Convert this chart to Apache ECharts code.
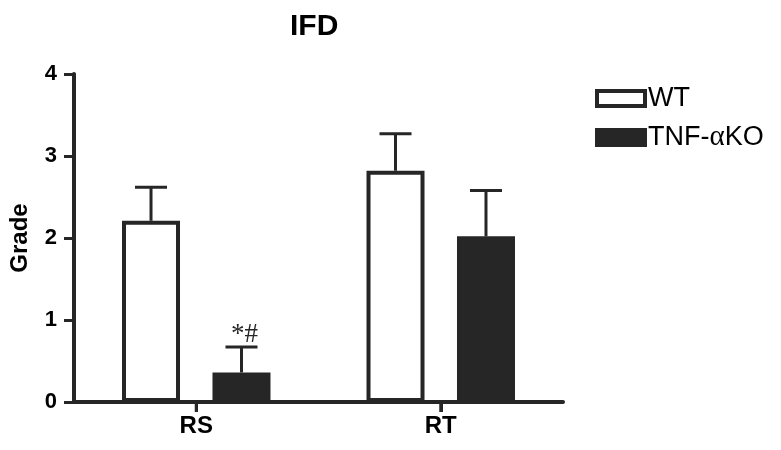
<!DOCTYPE html>
<html>
<head>
<meta charset="utf-8">
<script src="https://cdn.jsdelivr.net/npm/echarts@6/dist/echarts.min.js"></script>
<style>html,body{margin:0;padding:0;background:#fff}#c{width:781px;height:450px}</style>
</head>
<body>
<div id="c"></div>
<script>
const categories = ['RS', 'RT'];
const seriesNames = ['WT', 'TNF-αKO'];
const wtValues = [2.21, 2.82];
const wtErrors = [0.41, 0.45];
const koValues = [0.36, 2.02];
const koErrors = [0.31, 0.56];
const koAnnotations = ['*#', ''];
const yTicks = [0, 1, 2, 3, 4];

const INK = '#262626';
const BAR_W = 58;
const BAR_GAP = 0.56;
const FONT = '"Liberation Sans", Arial, sans-serif';
const SERIF = '"Liberation Serif", "DejaVu Serif", serif';

function errSeries(values, errors, groupIndex, notes) {
  const shift = (groupIndex === 0 ? -1 : 1) * BAR_W * (1 + BAR_GAP) / 2;
  return {
    type: 'custom',
    silent: true,
    z: 5,
    data: values.map((v, i) => [i, v, v + errors[i]]),
    renderItem: function (params, api) {
      const p0 = api.coord([api.value(0), api.value(1)]);
      const p1 = api.coord([api.value(0), api.value(2)]);
      const x = p0[0] + shift;
      const cap = 16;
      const children = [
        { type: 'line', shape: { x1: x, y1: p0[1], x2: x, y2: p1[1] }, style: { stroke: INK, lineWidth: 3 } },
        { type: 'line', shape: { x1: x - cap, y1: p1[1], x2: x + cap, y2: p1[1] }, style: { stroke: INK, lineWidth: 3 } }
      ];
      const note = notes ? notes[params.dataIndex] : '';
      if (note) {
        children.push({ type: 'text', x: x + 3, y: p1[1] + 1,
          style: { text: note, fill: INK, font: '27px ' + SERIF, align: 'center', verticalAlign: 'bottom' } });
      }
      return { type: 'group', children: children };
    }
  };
}

// category tick marks below the x axis (at each category centre)
const tickSeries = {
  type: 'custom',
  silent: true,
  z: 6,
  clip: false,
  data: categories.map((c, i) => [i, 0]),
  renderItem: function (params, api) {
    const p = api.coord([api.value(0), api.value(1)]);
    return { type: 'line', shape: { x1: p[0], y1: p[1], x2: p[0], y2: p[1] + 10 },
      style: { stroke: INK, lineWidth: 3 } };
  }
};

const chart = echarts.init(document.getElementById('c'), null, { renderer: 'canvas' });
chart.setOption({
  animation: false,
  backgroundColor: '#fff',
  title: {
    text: 'IFD', left: 285, top: 7,
    textStyle: { fontFamily: FONT, fontWeight: 'bold', fontSize: 30, color: '#000' }
  },
  legend: {
    data: seriesNames,
    orient: 'vertical',
    left: 595, top: 85,
    padding: 0,
    icon: 'rect',
    itemWidth: 48, itemHeight: 15, itemGap: 11,
    itemStyle: { borderWidth: 4, borderColor: INK },
    textStyle: { fontFamily: FONT, fontSize: 27, color: '#000', padding: [0, 0, 0, -2],
      rich: { a: { fontFamily: SERIF, fontSize: 29, color: '#000' } } },
    formatter: function (n) { return n.replace('α', '{a|α}'); }
  },
  grid: { left: 70, right: 218, top: 74, bottom: 48, containLabel: false },
  xAxis: {
    type: 'category',
    data: categories,
    axisLine: { lineStyle: { color: INK, width: 4 } },
    axisTick: { show: true, alignWithLabel: true, length: 10, lineStyle: { color: INK, width: 3 } },
    axisLabel: { margin: 12, fontFamily: FONT, fontWeight: 'bold', fontSize: 24, color: '#000' },
    splitLine: { show: false }
  },
  yAxis: {
    type: 'value',
    min: 0, max: 4, interval: 1,
    name: 'Grade',
    nameLocation: 'middle',
    nameRotate: 90,
    nameGap: 42,
    nameTextStyle: { fontFamily: FONT, fontWeight: 'bold', fontSize: 24, color: '#000' },
    axisLine: { show: true, lineStyle: { color: INK, width: 4 } },
    axisTick: { show: true, length: 10, lineStyle: { color: INK, width: 3 } },
    axisLabel: { margin: 17, fontFamily: FONT, fontWeight: 'bold', fontSize: 22, color: '#000',
      formatter: function (v) { return yTicks.indexOf(v) >= 0 ? String(v) : ''; } },
    splitLine: { show: false }
  },
  series: [
    { name: seriesNames[0], type: 'bar', data: wtValues, barWidth: BAR_W, barGap: (BAR_GAP * 100) + '%',
      itemStyle: { color: '#fff', borderColor: INK, borderWidth: 4 }, z: 3 },
    { name: seriesNames[1], type: 'bar', data: koValues, barWidth: BAR_W, barGap: (BAR_GAP * 100) + '%',
      itemStyle: { color: INK, borderColor: INK, borderWidth: 4 }, z: 3 },
    errSeries(wtValues, wtErrors, 0, null),
    errSeries(koValues, koErrors, 1, koAnnotations),
    tickSeries
  ]
});
</script>
</body>
</html>
